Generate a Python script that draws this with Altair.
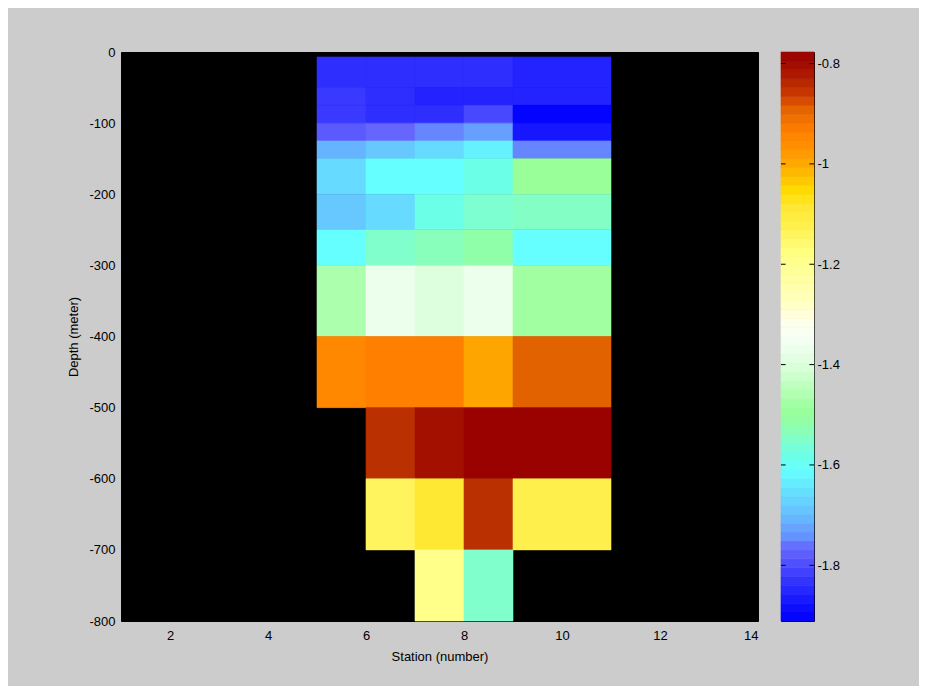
import altair as alt
import pandas as pd
import numpy as np

# ---- data ----
station_edges = [5, 6, 7, 8, 9, 11]
depth_edges = [-7, -50, -75, -100, -125, -150, -200, -250, -300, -400, -500, -600, -700, -800]
N = None
values = [
    [-1.84, -1.84, -1.84, -1.84, -1.855],
    [-1.825, -1.84, -1.855, -1.855, -1.855],
    [-1.825, -1.84, -1.84, -1.805, -1.905],
    [-1.785, -1.765, -1.75, -1.73, -1.87],
    [-1.71, -1.685, -1.66, -1.63, -1.75],
    [-1.66, -1.61, -1.61, -1.58, -1.49],
    [-1.685, -1.66, -1.58, -1.555, -1.545],
    [-1.61, -1.55, -1.535, -1.52, -1.61],
    [-1.465, -1.37, -1.40, -1.37, -1.48],
    [-0.95, -0.935, -0.935, -0.995, -0.89],
    [N, -0.845, -0.805, -0.78, -0.78],
    [N, -1.14, -1.085, -0.845, -1.12],
    [N, N, -1.19, -1.55, N],
]
x_ticks = [2, 4, 6, 8, 10, 12, 14]
y_ticks = [0, -100, -200, -300, -400, -500, -600, -700, -800]
cbar_ticks = [-1.8, -1.6, -1.4, -1.2, -1, -0.8]
vmin, vmax = -1.911, -0.777

# colormap anchors
cmap_values = [-1.911, -1.88, -1.845, -1.81, -1.785, -1.765, -1.745, -1.71, -1.68, -1.645,
               -1.61, -1.58, -1.55, -1.52, -1.49, -1.45, -1.40, -1.345, -1.31, -1.275,
               -1.225, -1.175, -1.125, -1.085, -1.055, -1.025, -0.995, -0.965, -0.935,
               -0.91, -0.89, -0.86, -0.845, -0.825, -0.805, -0.777]
cmap_colors = ["#0000ff", "#1010ff", "#2a2aff", "#4444ff", "#5a5aff", "#6666ff", "#6690ff",
               "#66b3ff", "#66ccff", "#66e6ff", "#66ffff", "#6cffe8", "#80ffcc", "#90ffaa",
               "#99ff99", "#b8ffb8", "#ddffdd", "#f8fff8", "#ffffe8", "#ffffc0", "#ffffa0",
               "#ffff80", "#fff050", "#ffe833", "#ffdd00", "#ffc000", "#ffa500", "#ff9000",
               "#ff8000", "#f07000", "#e36200", "#cc3800", "#bb3000", "#b01800", "#a31000",
               "#990000"]

rows = []
for i, row in enumerate(values):
    for j, v in enumerate(row):
        if v is None:
            continue
        rows.append(dict(x0=station_edges[j], x1=station_edges[j + 1],
                         y0=depth_edges[i], y1=depth_edges[i + 1], v=v))
df = pd.DataFrame(rows)

color_scale = alt.Scale(domain=cmap_values, range=cmap_colors, interpolate="rgb")

heat = alt.Chart(df).mark_rect(strokeWidth=0.6).encode(
    x=alt.X("x0:Q", scale=alt.Scale(domain=[1, 14], nice=False, zero=False),
            axis=alt.Axis(values=x_ticks, title="Station (number)", labelPadding=8,
                          titlePadding=8, grid=False)),
    x2="x1:Q",
    y=alt.Y("y0:Q", scale=alt.Scale(domain=[-800, 0], nice=False, zero=False),
            axis=alt.Axis(values=y_ticks, title="Depth (meter)", labelPadding=6,
                          titlePadding=8, grid=False, labelExpr="'' + datum.value")),
    y2="y1:Q",
    color=alt.Color("v:Q", scale=color_scale, legend=None),
    stroke=alt.Stroke("v:Q", scale=color_scale, legend=None),
).properties(width=637, height=569, view=alt.ViewBackground(fill="black", stroke="black"))

edges = np.linspace(vmin, vmax, 65)
cb = pd.DataFrame({"lo": edges[:-1], "hi": edges[1:], "mid": (edges[:-1] + edges[1:]) / 2,
                   "a": 0.0, "b": 1.0})
cb_y_scale = alt.Scale(domain=[vmin, vmax], nice=False, zero=False)
cb_axis = alt.Axis(orient="right", values=cbar_ticks, title=None, labelPadding=3,
                   grid=False, labelExpr="'' + datum.value")
bar = alt.Chart(cb).mark_rect(strokeWidth=0.6).encode(
    x=alt.X("a:Q", scale=alt.Scale(domain=[0, 1], nice=False), axis=None),
    x2="b:Q",
    y=alt.Y("lo:Q", scale=cb_y_scale, axis=cb_axis),
    y2="hi:Q",
    color=alt.Color("mid:Q", scale=color_scale, legend=None),
    stroke=alt.Stroke("mid:Q", scale=color_scale, legend=None),
)
tdf = pd.DataFrame({"t": cbar_ticks * 2,
                    "a": [0.0] * 6 + [0.86] * 6,
                    "b": [0.14] * 6 + [1.0] * 6})
tk = alt.Chart(tdf).mark_rule(color="black", strokeWidth=1).encode(
    x=alt.X("a:Q", scale=alt.Scale(domain=[0, 1], nice=False), axis=None),
    x2="b:Q",
    y=alt.Y("t:Q", scale=cb_y_scale, axis=cb_axis),
)
cbar = alt.layer(bar, tk).properties(width=33, height=569,
                                      view=alt.ViewBackground(stroke="black"))

chart = alt.hconcat(heat, cbar, spacing=23, bounds="flush").configure(
    background="#cccccc",
    padding={"left": 59, "top": 37, "right": 79, "bottom": 22},
).configure_axis(
    labelFont="Liberation Sans", labelFontSize=13, labelColor="black",
    titleFont="Liberation Sans", titleFontSize=13, titleFontWeight="normal",
    titleColor="black", ticks=False, domain=False,
)

chart.save("out.html", embed_options={"renderer": "svg", "actions": False})
